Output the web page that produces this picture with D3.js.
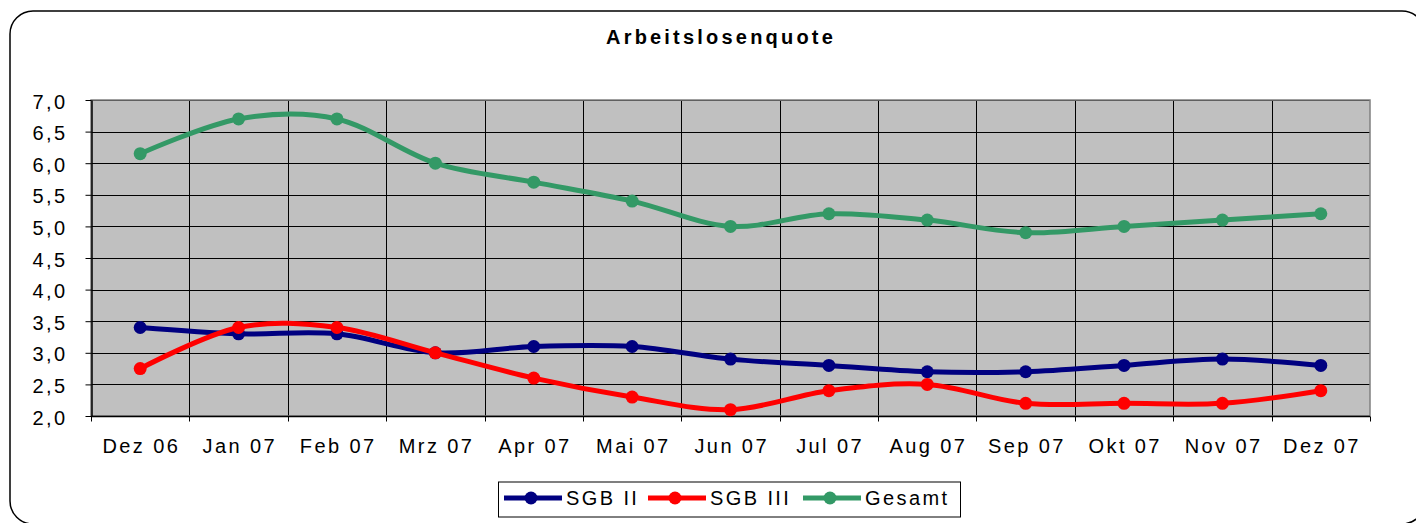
<!DOCTYPE html>
<html>
<head>
<meta charset="utf-8">
<script src="https://cdn.jsdelivr.net/npm/d3@7"></script>
<style>
  body { margin: 0; background: #fff; }
  text { font-family: "Liberation Sans", Arial, sans-serif; fill: #000; }
</style>
</head>
<body>
<div id="chart"></div>
<script>
var months = ["Dez 06", "Jan 07", "Feb 07", "Mrz 07", "Apr 07", "Mai 07", "Jun 07",
              "Jul 07", "Aug 07", "Sep 07", "Okt 07", "Nov 07", "Dez 07"];
var sgb2 = [3.4, 3.3, 3.3, 3.0, 3.1, 3.1, 2.9, 2.8, 2.7, 2.7, 2.8, 2.9, 2.8];
var sgb3 = [2.75, 3.4, 3.4, 3.0, 2.6, 2.3, 2.1, 2.4, 2.5, 2.2, 2.2, 2.2, 2.4];
var gesamt = [6.15, 6.7, 6.7, 6.0, 5.7, 5.4, 5.0, 5.2, 5.1, 4.9, 5.0, 5.1, 5.2];
var yTicks = [2.0, 2.5, 3.0, 3.5, 4.0, 4.5, 5.0, 5.5, 6.0, 6.5, 7.0];
var seriesNames = ["SGB II", "SGB III", "Gesamt"];
var seriesColors = ["#000080", "#ff0000", "#339966"];

var width = 1416, height = 523;
var pLeft = 91, pRight = 1370, pTop = 100, pBottom = 416;

var de = d3.formatLocale({ decimal: ",", thousands: ".", grouping: [3], currency: ["", " €"] });
var fmt = de.format(".1f");

var svg = d3.select("#chart").append("svg")
    .attr("width", width)
    .attr("height", height);

// frame
svg.append("rect")
    .attr("x", 10).attr("y", 11)
    .attr("width", 1415).attr("height", 513)
    .attr("rx", 23).attr("ry", 23)
    .attr("fill", "#fff")
    .attr("stroke", "#000")
    .attr("stroke-width", 1.5);

svg.append("text")
    .attr("x", 721).attr("y", 44)
    .attr("text-anchor", "middle")
    .style("font-size", "20px")
    .style("font-weight", "bold")
    .style("letter-spacing", "3.2px")
    .text("Arbeitslosenquote");

var x = d3.scaleBand().domain(months).range([pLeft, pRight]);
var y = d3.scaleLinear().domain([2, 7]).range([pBottom, pTop]);

// plot area
svg.append("rect")
    .attr("x", pLeft).attr("y", pTop)
    .attr("width", pRight - pLeft).attr("height", pBottom - pTop)
    .attr("fill", "#c0c0c0");

// horizontal grid
svg.append("g")
    .selectAll("line")
    .data(yTicks)
    .enter().append("line")
    .attr("x1", pLeft).attr("x2", pRight)
    .attr("y1", function (d) { return Math.round(y(d)) + 0.5; })
    .attr("y2", function (d) { return Math.round(y(d)) + 0.5; })
    .attr("stroke", "#000")
    .attr("stroke-width", 1);

// vertical grid at category boundaries
var bounds = months.slice(1).map(function (m) { return x(m); });
svg.append("g")
    .selectAll("line")
    .data(bounds)
    .enter().append("line")
    .attr("x1", function (d) { return Math.round(d) + 0.5; })
    .attr("x2", function (d) { return Math.round(d) + 0.5; })
    .attr("y1", pTop).attr("y2", pBottom)
    .attr("stroke", "#000")
    .attr("stroke-width", 1);

// plot border
svg.append("rect")
    .attr("x", pLeft).attr("y", pTop)
    .attr("width", pRight - pLeft).attr("height", pBottom - pTop)
    .attr("fill", "none")
    .attr("stroke", "#808080")
    .attr("stroke-width", 1.5);

// y axis
var yAxis = svg.append("g")
    .attr("transform", "translate(" + (pLeft + 0.5) + ",0)")
    .call(d3.axisLeft(y).tickValues(yTicks).tickSize(6).tickPadding(18).tickFormat(fmt).tickSizeOuter(0));
yAxis.select(".domain").attr("stroke", "#000").attr("stroke-width", 1.5);
yAxis.selectAll(".tick line").attr("stroke", "#000");
yAxis.selectAll("text")
    .style("font-size", "20px")
    .style("letter-spacing", "2.4px")
    .style("font-family", "'Liberation Sans', Arial, sans-serif")
    .attr("dy", "0.4em");

// x axis ticks at boundaries
var xAxisG = svg.append("g")
    .attr("transform", "translate(0," + (pBottom + 0.5) + ")");
xAxisG.append("line")
    .attr("x1", pLeft).attr("x2", pRight)
    .attr("stroke", "#000").attr("stroke-width", 1.5);
xAxisG.selectAll(".tk")
    .data(months.map(function (m) { return x(m); }).concat([pRight]))
    .enter().append("line")
    .attr("class", "tk")
    .attr("x1", function (d) { return Math.round(d) + 0.5; })
    .attr("x2", function (d) { return Math.round(d) + 0.5; })
    .attr("y1", 0).attr("y2", 5)
    .attr("stroke", "#000");
xAxisG.selectAll("text")
    .data(months)
    .enter().append("text")
    .attr("x", function (d) { return x(d) + x.bandwidth() / 2 + 1.2; })
    .attr("y", 36)
    .attr("text-anchor", "middle")
    .style("font-size", "20px")
    .style("letter-spacing", "2.4px")
    .text(function (d) { return d; });

// lines
var series = [sgb2, sgb3, gesamt];
var line = d3.line()
    .x(function (d, i) { return x(months[i]) + x.bandwidth() / 2; })
    .y(function (d) { return y(d); })
    .curve(d3.curveCardinal.tension(0));

var drawOrder = [2, 0, 1];
drawOrder.forEach(function (s) {
    var g = svg.append("g");
    g.append("path")
        .datum(series[s])
        .attr("d", line)
        .attr("fill", "none")
        .attr("stroke", seriesColors[s])
        .attr("stroke-width", 5)
        .attr("stroke-linejoin", "round");
    g.selectAll("circle")
        .data(series[s])
        .enter().append("circle")
        .attr("cx", function (d, i) { return x(months[i]) + x.bandwidth() / 2; })
        .attr("cy", function (d) { return y(d); })
        .attr("r", 6.5)
        .attr("fill", seriesColors[s]);
});

// legend
var legend = svg.append("g");
legend.append("rect")
    .attr("x", 498.5).attr("y", 482)
    .attr("width", 462).attr("height", 35)
    .attr("fill", "#fff")
    .attr("stroke", "#000")
    .attr("stroke-width", 1);

var legX = [504, 648, 803];
seriesNames.forEach(function (name, i) {
    var g = legend.append("g").attr("transform", "translate(" + legX[i] + ",498)");
    g.append("line")
        .attr("x1", 0).attr("x2", 58)
        .attr("stroke", seriesColors[i])
        .attr("stroke-width", 5);
    g.append("circle")
        .attr("cx", 27).attr("cy", 0).attr("r", 6.5)
        .attr("fill", seriesColors[i]);
    g.append("text")
        .attr("x", 62).attr("y", 7)
        .style("font-size", "20px")
        .style("letter-spacing", "2.4px")
        .text(name);
});
</script>
</body>
</html>
